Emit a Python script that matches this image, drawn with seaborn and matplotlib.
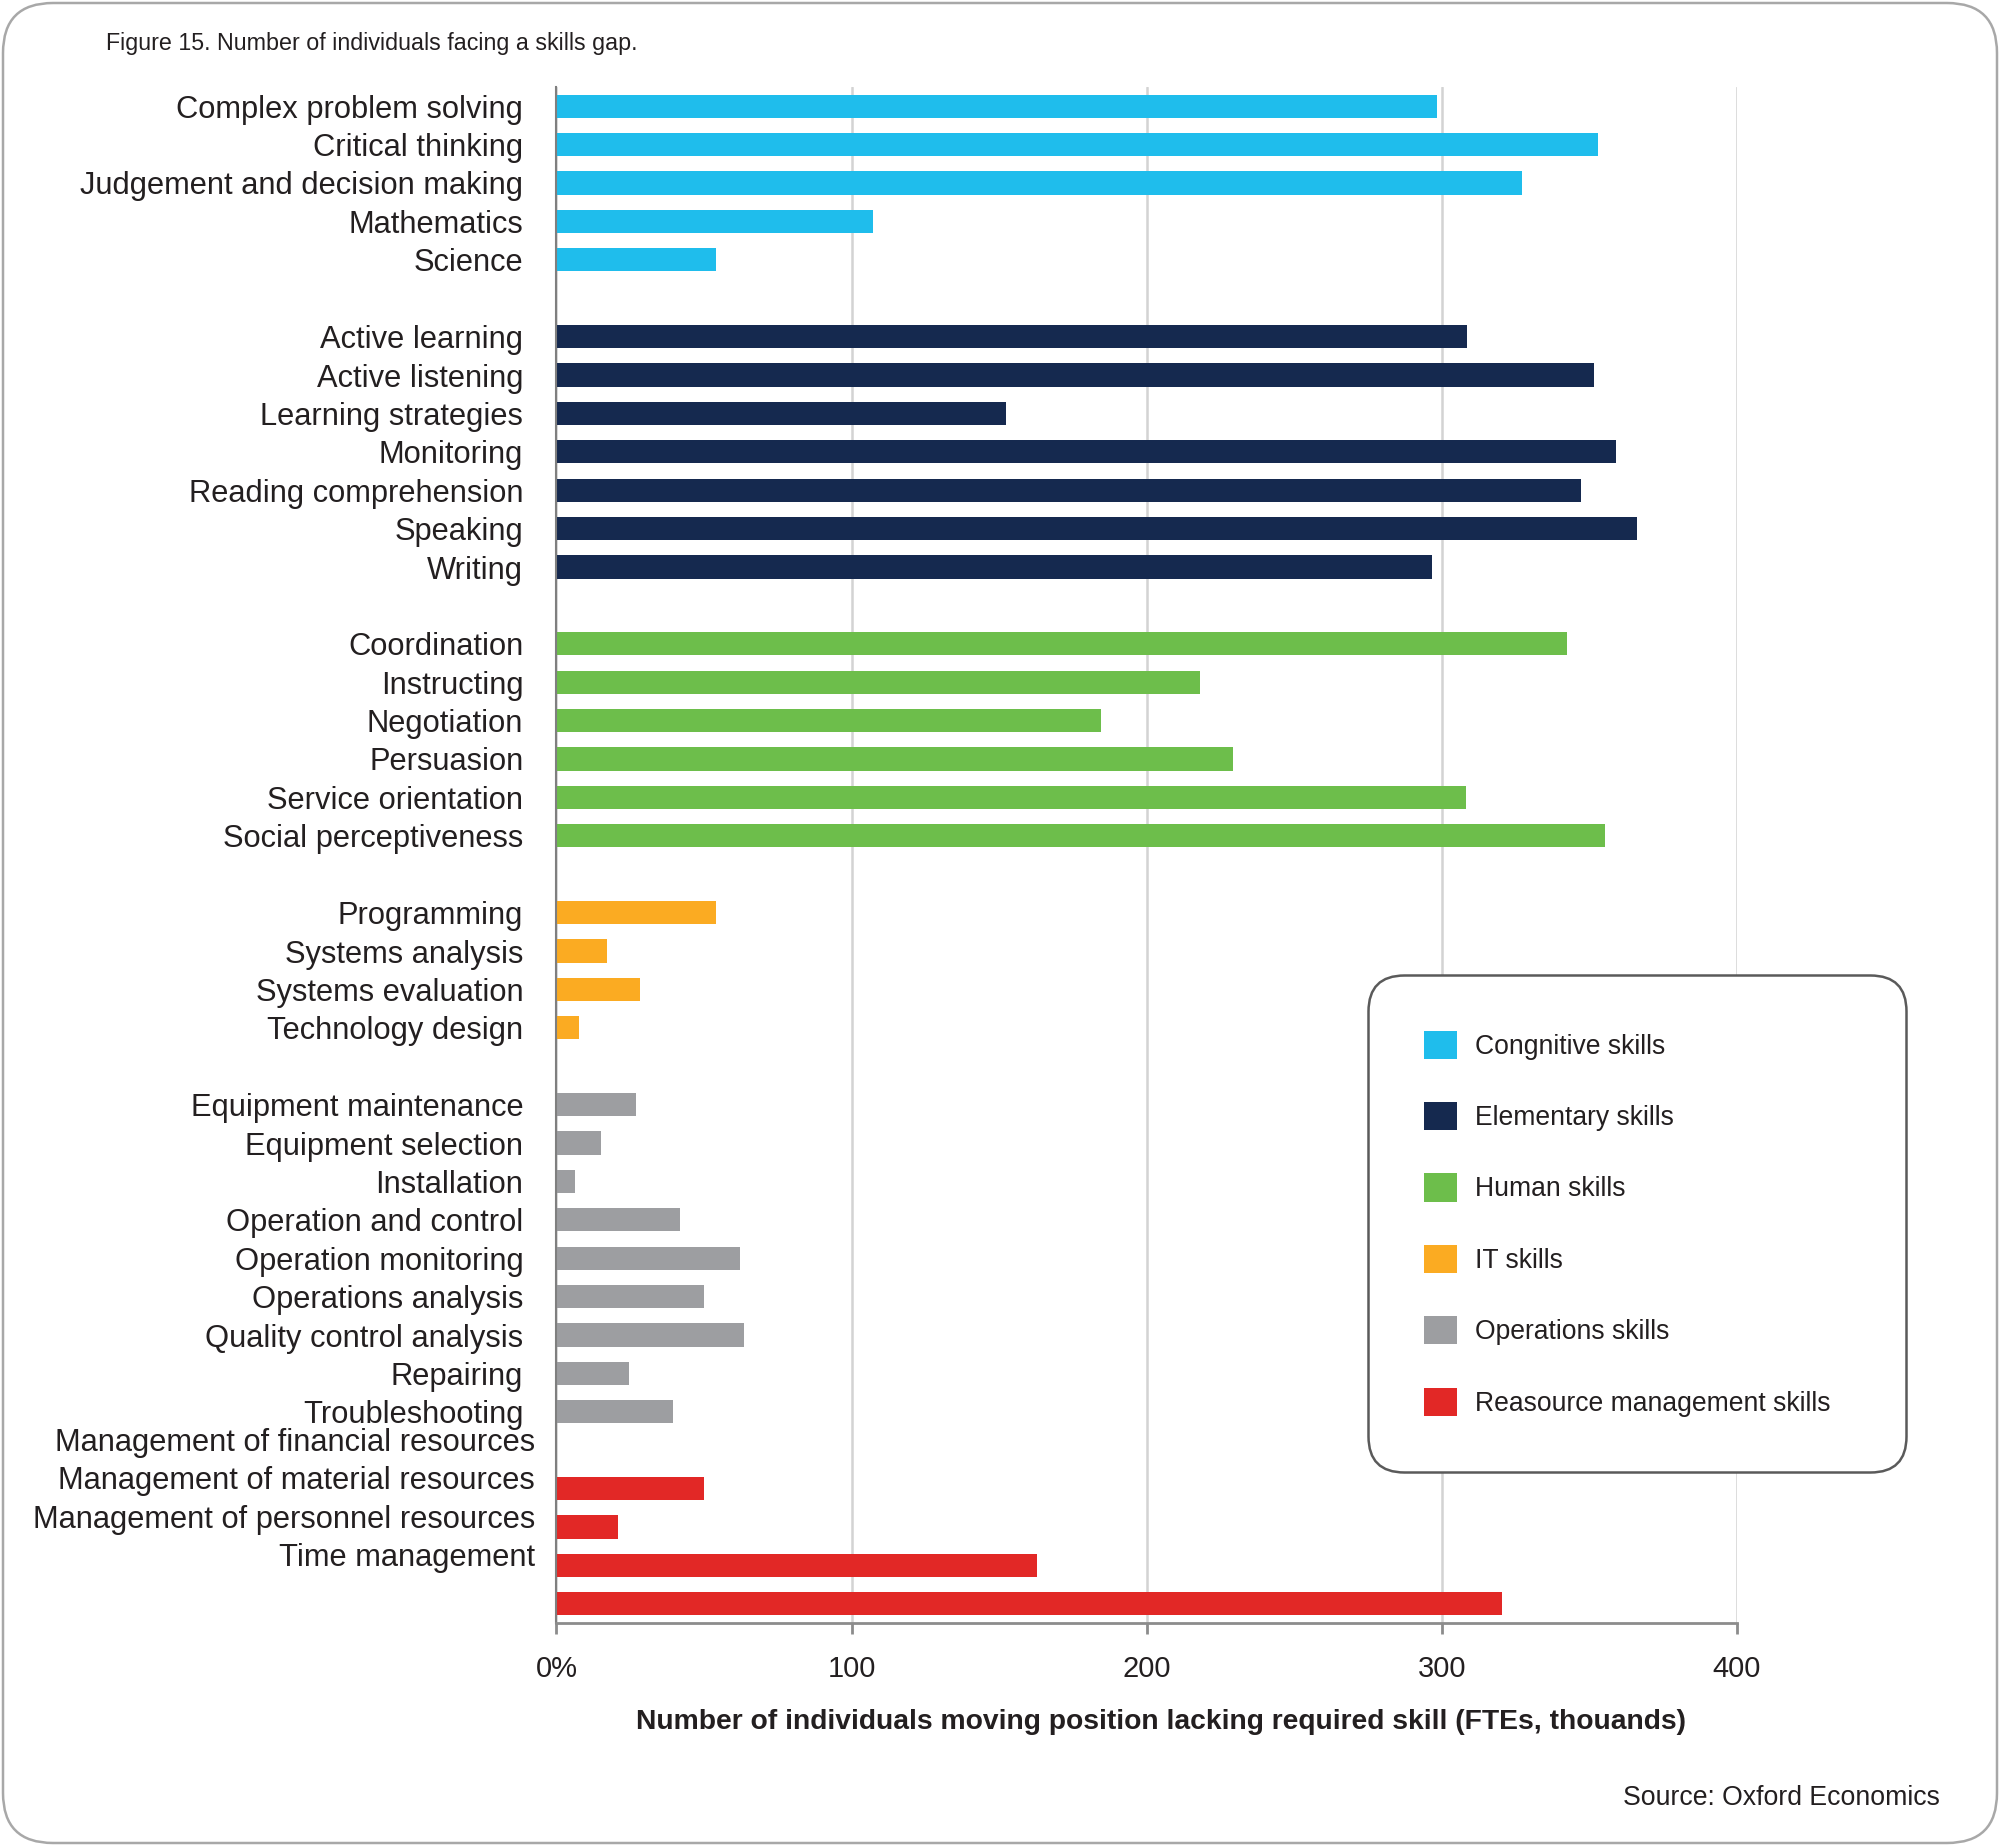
import matplotlib
matplotlib.use("Agg")
import matplotlib.pyplot as plt
from matplotlib.patches import Patch, FancyBboxPatch
import seaborn as sns
import pandas as pd

# ---------------- data ----------------
groups = ["Congnitive skills", "Elementary skills", "Human skills",
          "IT skills", "Operations skills", "Reasource management skills"]
colors = ["#1FBDEC", "#15294F", "#6DBE4B", "#FBAB22", "#9D9EA1", "#E22826"]

cognitive = ["Complex problem solving", "Critical thinking",
             "Judgement and decision making", "Mathematics", "Science"]
cognitive_vals = [298.5, 353.0, 327.2, 107.4, 54.2]

elementary = ["Active learning", "Active listening", "Learning strategies",
              "Monitoring", "Reading comprehension", "Speaking", "Writing"]
elementary_vals = [308.5, 351.5, 152.4, 358.9, 347.0, 366.1, 296.7]

human = ["Coordination", "Instructing", "Negotiation", "Persuasion",
         "Service orientation", "Social perceptiveness"]
human_vals = [342.3, 218.1, 184.4, 229.3, 308.1, 355.2]

it = ["Programming", "Systems analysis", "Systems evaluation", "Technology design"]
it_vals = [54.2, 17.2, 28.3, 7.7]

ops = ["Equipment maintenance", "Equipment selection", "Installation",
       "Operation and control", "Operation monitoring", "Operations analysis",
       "Quality control analysis", "Repairing", "Troubleshooting"]
ops_vals = [27.0, 15.0, 6.3, 41.9, 62.3, 50.0, 63.5, 24.5, 39.6]

resource = ["Management of financial resources", "Management of material resources",
            "Management of personnel resources", "Time management"]
resource_vals = [50.0, 21.0, 162.7, 320.5]

x_ticks = [0, 100, 200, 300, 400]
x_tick_labels = ["0%", "100", "200", "300", "400"]

title = "Figure 15. Number of individuals facing a skills gap."
x_label = "Number of individuals moving position lacking required skill (FTEs, thouands)"
source = "Source: Oxford Economics"

# ---------------- build table ----------------
skill_lists = [cognitive, elementary, human, it, ops, resource]
value_lists = [cognitive_vals, elementary_vals, human_vals, it_vals, ops_vals, resource_vals]

rows = []
order = []
for gi, (g, names, vals) in enumerate(zip(groups, skill_lists, value_lists)):
    if gi > 0:
        order.append(" " * gi)  # empty spacer slot between groups
    for n, v in zip(names, vals):
        rows.append({"skill": n, "value": v, "group": g})
        order.append(n)
df = pd.DataFrame(rows)
palette = dict(zip(groups, colors))

# ---------------- style ----------------
sns.set_style("white")
plt.rcParams["font.family"] = ["Liberation Sans", "DejaVu Sans"]
TXT = "#231f20"

W, H, DPI = 2000, 1846, 200
fig = plt.figure(figsize=(W / DPI, H / DPI), dpi=DPI)
ax = fig.add_axes([556.4 / W, 1 - 1623 / H, (1737 - 556.4) / W, (1623 - 87) / H])

sns.barplot(data=df, x="value", y="skill", hue="group", order=order,
            hue_order=groups, palette=palette, dodge=False, width=0.6,
            saturation=1, linewidth=0, legend=False, ax=ax)

ax.set_xlim(0, 400)
ax.set_ylim(len(order) - 0.5, -0.5)

# grid & spines
ax.set_axisbelow(True)
ax.grid(axis="x", color="#d3d3d3", linewidth=0.9)
ax.grid(axis="y", visible=False)
for s in ["top", "right"]:
    ax.spines[s].set_visible(False)
ax.spines["left"].set_color("#7f7f7f")
ax.spines["left"].set_linewidth(0.75)
ax.spines["bottom"].set_color("#8c8c8c")
ax.spines["bottom"].set_linewidth(1.0)

# x axis
ax.set_xticks(x_ticks, x_tick_labels)
ax.tick_params(axis="x", length=3.85, width=1.0, color="#8c8c8c", pad=7.5,
               labelsize=10.5, labelcolor=TXT, bottom=True)
ax.set_xlabel(x_label, fontsize=10.2, fontweight="bold", color=TXT)
ax.xaxis.set_label_coords((1161 - 556.4) / (1737 - 556.4), (1623 - 1729) / (1623 - 87))
ax.xaxis.label.set_va("baseline")

# y axis labels: regular ones at their bar slot, the resource group shifted up
ypos, ylab = [], []
for names in skill_lists[:-1]:
    for n in names:
        ypos.append(order.index(n))
        ylab.append(n)
for n in resource:
    ypos.append(order.index(n) - 1.28)
    ylab.append(n)
ax.set_yticks(ypos, ylab)
ax.set_ylabel("")
ax.tick_params(axis="y", length=0, pad=11.9, labelsize=11.12, labelcolor=TXT)
for t in ax.yaxis.get_major_ticks()[-len(resource):]:
    t.set_pad(7.7)

# legend
handles = [Patch(facecolor=c, edgecolor="none") for c in colors]
leg = ax.legend(handles, groups, loc="upper left",
                bbox_to_anchor=(1368 / W, 1 - 1467 / H, 538 / W, 492 / H),
                bbox_transform=fig.transFigure, mode="expand", borderaxespad=0,
                fontsize=9.55, handlelength=1.25, handleheight=1.25,
                handletextpad=0.68, labelspacing=1.60, borderpad=2.1,
                frameon=True, fancybox=True, framealpha=1, labelcolor=TXT)
fr = leg.get_frame()
fr.set_boxstyle("round", pad=0, rounding_size=1.36)
fr.set_edgecolor("#5a5a5a")
fr.set_linewidth(0.9)
fr.set_facecolor("white")

# title & source
fig.text(106 / W, 1 - 50 / H, title, fontsize=8.4, color=TXT, va="baseline", ha="left")
fig.text(1940 / W, 1 - 1805 / H, source, fontsize=9.6, color=TXT, va="baseline", ha="right")

# rounded outer frame
border = FancyBboxPatch((0.015, 0.015), W / DPI - 0.03, H / DPI - 0.03,
                        boxstyle="round,pad=0,rounding_size=0.25",
                        transform=fig.dpi_scale_trans, facecolor="none",
                        edgecolor="#a8a8a8", linewidth=0.9)
fig.add_artist(border)

fig.savefig("out.png", dpi=DPI, facecolor="white")
